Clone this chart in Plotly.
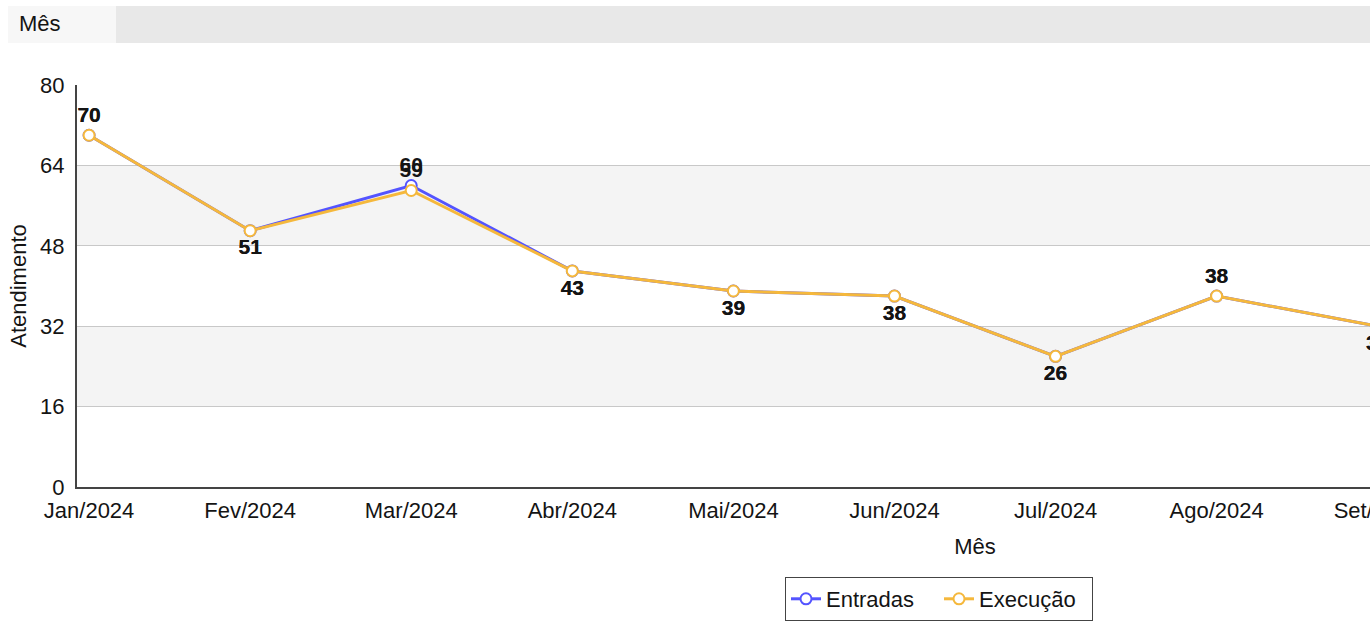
import plotly.graph_objects as go

# ---- data ----
categories = ["Jan/2024", "Fev/2024", "Mar/2024", "Abr/2024", "Mai/2024", "Jun/2024",
              "Jul/2024", "Ago/2024", "Set/2024", "Out/2024", "Nov/2024", "Dez/2024"]
entradas = [70, 51, 60, 43, 39, 38, 26, 38, 32]
execucao = [70, 51, 59, 43, 39, 38, 26, 38, 32]
y_ticks = [0, 16, 32, 48, 64, 80]

FONT = "Liberation Sans, Arial, sans-serif"
BLUE = "#5454ff"
GOLD = "#f5b83c"
TXT = "#141414"
FS = 22

W, H = 1885, 628
L, R, T, B = 77, 12, 85, 141
PW = W - L - R
PH = H - T - B


def px_x(p):
    return (p - L) / PW


def px_y(p):
    return (H - B - p) / PH


def label_positions(vals):
    pos = []
    for i, v in enumerate(vals):
        prev_v = vals[i - 1] if i > 0 else None
        next_v = vals[i + 1] if i < len(vals) - 1 else None
        peak = (prev_v is None or v >= prev_v) and (next_v is None or v >= next_v)
        pos.append("top center" if peak else "bottom center")
    return pos


fig = go.Figure()

for name, vals, color in [("Entradas", entradas, BLUE), ("Execução", execucao, GOLD)]:
    fig.add_trace(go.Scatter(
        x=categories[:len(vals)], y=vals, name=name,
        mode="lines+markers+text",
        text=[str(v) for v in vals],
        textposition=label_positions(vals),
        textfont=dict(family=FONT, size=21, color=TXT, weight="bold"),
        line=dict(color=color, width=3),
        marker=dict(symbol="circle", size=11, color="white",
                    line=dict(color=color, width=2)),
        cliponaxis=True,
    ))

shapes = []
# alternating bands
for y0, y1 in [(16, 32), (48, 64)]:
    shapes.append(dict(type="rect", xref="paper", yref="y", x0=0, x1=1, y0=y0, y1=y1,
                       fillcolor="#f4f4f4", line=dict(width=0), layer="below"))
# header bar
shapes.append(dict(type="rect", xref="paper", yref="paper",
                   x0=px_x(8), x1=px_x(W + 5), y0=px_y(43), y1=px_y(6),
                   fillcolor="#e8e8e8", line=dict(width=0), layer="below"))
shapes.append(dict(type="rect", xref="paper", yref="paper",
                   x0=px_x(8), x1=px_x(116), y0=px_y(43), y1=px_y(6),
                   fillcolor="#f7f7f7", line=dict(width=0), layer="below"))

fig.update_layout(
    width=W, height=H,
    margin=dict(l=L, r=R, t=T, b=B, pad=0, autoexpand=False),
    paper_bgcolor="white", plot_bgcolor="white",
    font=dict(family=FONT, size=FS, color=TXT),
    shapes=shapes,
    showlegend=True,
    legend=dict(orientation="h", xanchor="left", yanchor="top",
                x=px_x(785), y=px_y(577),
                bordercolor="#444444", borderwidth=1, bgcolor="white",
                font=dict(family=FONT, size=FS, color=TXT),
                itemwidth=30, entrywidth=108, entrywidthmode="pixels",
                traceorder="normal"),
    annotations=[dict(text="Mês", xref="paper", yref="paper",
                      x=px_x(17), y=px_y(24), xanchor="left", yanchor="middle",
                      showarrow=False, font=dict(family=FONT, size=FS, color=TXT))],
    xaxis=dict(
        type="category", categoryorder="array", categoryarray=categories,
        range=[-0.075, len(categories) - 1 + 0.075],
        automargin=False,
        showgrid=False, showline=True, linecolor="#444444", linewidth=2,
        ticks="outside", ticklen=3, tickcolor="rgba(0,0,0,0)",
        tickfont=dict(family=FONT, size=FS, color=TXT),
        title=dict(text="Mês", font=dict(family=FONT, size=FS, color=TXT), standoff=16),
        zeroline=False,
    ),
    yaxis=dict(
        range=[0, 80], tickvals=y_ticks,
        automargin=False,
        showgrid=True, gridcolor="#c8c8c8", gridwidth=1,
        showline=True, linecolor="#444444", linewidth=2,
        ticks="", ticklabelstandoff=6,
        tickfont=dict(family=FONT, size=FS, color=TXT),
        title=dict(text="Atendimento", font=dict(family=FONT, size=FS, color=TXT), standoff=7),
        zeroline=False,
    ),
)

fig.write_html("out.html", post_script=(
    "document.body.style.margin='0';"
    "document.body.style.overflow='hidden';"
    "document.documentElement.style.overflow='hidden';"
))
